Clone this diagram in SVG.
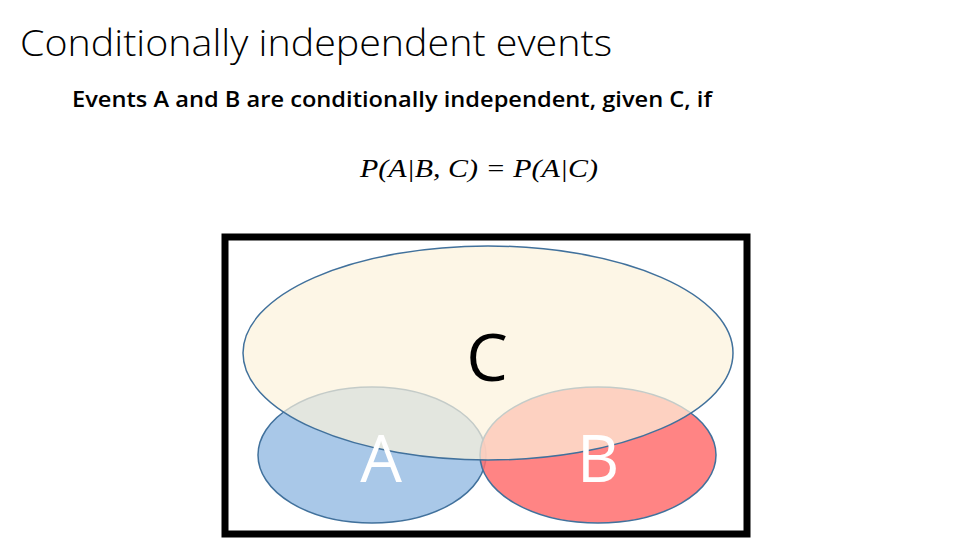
<svg xmlns="http://www.w3.org/2000/svg" width="960" height="540" viewBox="0 0 960 540">
<style>
.t{font-family:"Open Sans","Liberation Sans",sans-serif}
.e{stroke:#41719c;stroke-width:1.5}
.big{font-family:"Open Sans","Liberation Sans",sans-serif;font-size:66px;text-anchor:middle}
</style>
<rect width="960" height="540" fill="#fff"/>
<text class="t" x="20" y="56" font-size="36" font-weight="300" fill="#000" textLength="592" lengthAdjust="spacingAndGlyphs">Conditionally independent events</text>
<text class="t" x="72" y="107" font-size="21" font-weight="600" fill="#000" textLength="640" lengthAdjust="spacingAndGlyphs">Events A and B are conditionally independent, given C, if</text>
<text x="360" y="177" font-size="25" font-family="Liberation Serif,serif" font-style="italic" textLength="238" lengthAdjust="spacingAndGlyphs">P(A|B, C) = P(A|C)</text>
<rect x="225" y="237" width="522" height="297" fill="none" stroke="#000" stroke-width="7"/>
<g id="A"><ellipse class="e" cx="372" cy="455" rx="114" ry="68" fill="#a9c8e8"/></g>
<g id="B"><ellipse class="e" cx="598" cy="455" rx="118" ry="68" fill="#ff6f6f" fill-opacity="0.85"/></g>
<g id="C"><ellipse class="e" cx="488" cy="353" rx="245" ry="107" fill="#fcf2dc" fill-opacity="0.7"/></g>
<g id="labels">
<text class="big" x="487" y="381" fill="#000">C</text>
<text class="big" x="381" y="482" fill="#fff">A</text>
<text class="big" x="598" y="482" fill="#fff">B</text>
</g>
<g id="connectors"/>
</svg>
